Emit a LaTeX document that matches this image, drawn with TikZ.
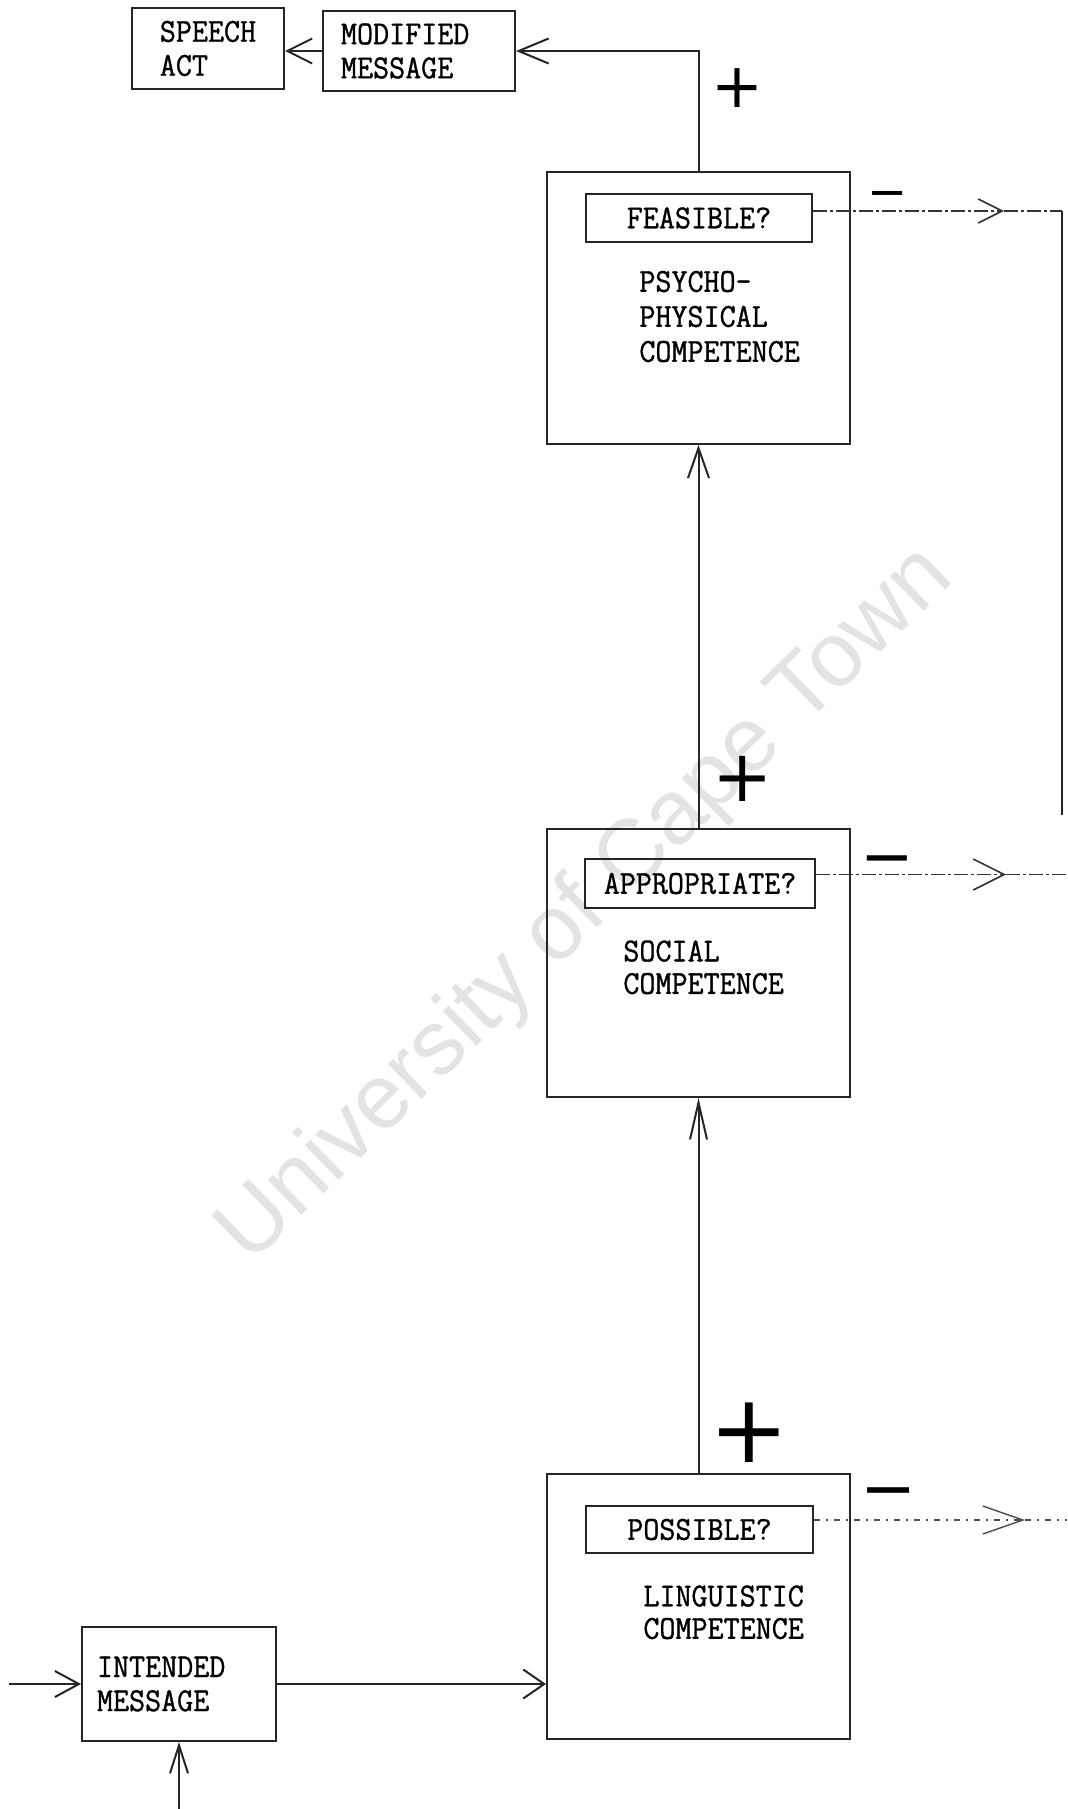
\documentclass[tikz,border=0pt]{standalone}
\usepackage{fontspec}
\usetikzlibrary{arrows.meta}
\newfontfamily\tw[FakeStretch=0.93,FakeBold=1]{Latin Modern Mono}
\newfontfamily\dv{DejaVu Sans}
\newfontfamily\wmfont{Liberation Sans}
\begin{document}
\begin{tikzpicture}[x=0.5pt,y=-0.5pt,
  box/.style={draw=black!85, line width=1pt, rectangle, inner sep=0pt,
    font=\tw\fontsize{16.75}{17}\selectfont},
  txt/.style={anchor=north west, align=left, inner sep=0pt,
    font=\tw\fontsize{16.75}{16.25}\selectfont},
  conn/.style={draw=black!85, line width=1pt},
  mline/.style={draw=black!80, line width=0.8pt, dash pattern=on 7pt off 1.5pt on 1.5pt off 1.5pt},
  pline/.style={draw=black!70, line width=0.7pt, dash pattern=on 3pt off 3pt on 1pt off 3pt},
  sign/.style={inner sep=0pt, text=black}
]
\useasboundingbox (0,0) rectangle (1067,1809);
\fill[white] (0,0) rectangle (1067,1809);

% watermark
\node[rotate=44.2, anchor=base, text=black!11, inner sep=0pt,
  font=\wmfont\fontsize{45.6}{50}\selectfont] (wm) at (603,923) {University of Cape Town};

% top boxes
\node[box, minimum width=76pt, minimum height=40.5pt, align=left] (speech) at (208,48.5) {SPEECH\\ACT};
\node[box, minimum width=96pt, minimum height=40pt, text width=78pt, inner xsep=9pt, align=left] (mod) at (419,51) {MODIFIED\\MESSAGE};

% psycho-physical
\node[box, minimum width=151.5pt, minimum height=136pt] (feas) at (698.5,308) {};
\node[box, minimum width=113pt, minimum height=24pt] (fq) at (699,218) {FEASIBLE?};
\node[txt, font=\tw\fontsize{16.75}{17.5}\selectfont] (ftxt) at (639,270.5) {PSYCHO-\\PHYSICAL\\COMPETENCE};

% social
\node[box, minimum width=151.5pt, minimum height=134pt] (soc) at (698.5,963) {};
\node[box, minimum width=115pt, minimum height=24.5pt] (aq) at (700,883.5) {APPROPRIATE?};
\node[txt] (stxt) at (623,940) {SOCIAL\\COMPETENCE};

% linguistic
\node[box, minimum width=151.5pt, minimum height=132.5pt] (ling) at (698.5,1606.5) {};
\node[box, minimum width=113.5pt, minimum height=23.5pt] (pq) at (699.5,1529.5) {POSSIBLE?};
\node[txt] (ltxt) at (643,1585) {LINGUISTIC\\COMPETENCE};

% intended
\node[box, minimum width=97pt, minimum height=57pt, text width=82pt, inner xsep=7.5pt, align=left] (int) at (179,1684) {INTENDED\\MESSAGE};

% signs
\node[sign, font=\dv\fontsize{31}{31}\selectfont] (p1) at (737,88) {+};
\node[sign, font=\dv\fontsize{36}{36}\selectfont] (p2) at (743,779) {+};
\node[sign, font=\dv\fontsize{47.5}{47.5}\selectfont] (p3) at (749,1433) {+};
\node[sign, font=\dv\fontsize{24}{24}\selectfont] (m1) at (887.5,193) {\vphantom{+}−};
\node[sign, font=\dv\fontsize{32}{32}\selectfont] (m2) at (887.5,858) {\vphantom{+}−};
\node[sign, font=\dv\fontsize{33.5}{33.5}\selectfont] (m3) at (888.5,1490) {\vphantom{+}−};

% main connectors
\draw[conn, -{Straight Barb[length=12.5pt,width=12.5pt]}] (mod.west) -- (mod.west -| speech.east);
\draw[conn, -{Straight Barb[length=15pt,width=12.5pt]}] (feas.north) |- (mod.east);
\draw[conn, -{Straight Barb[length=15pt,width=10.5pt]}] (soc.north) -- (feas.south);
\draw[conn, -{Straight Barb[length=18.5pt,width=8.5pt]}] (ling.north) -- (soc.south);
\draw[conn, -{Straight Barb[length=10.5pt,width=14.5pt]}] (int.east) -- (int.east -| ling.west);
\coordinate (inL) at (9,1684);
\coordinate (inB) at (179,1809);
\draw[conn, -{Straight Barb[length=12pt,width=13pt]}] (inL) -- (int.west);
\draw[conn, -{Straight Barb[length=14pt,width=9pt]}] (inB) -- (int.south);

% minus outputs
\coordinate (ftip) at (1004,211);
\coordinate (fcorner) at (1062,211);
\coordinate (fend) at (1062,815);
\draw[mline, -{Straight Barb[length=12pt,width=12pt]}] ([yshift=3.5pt]fq.east) -- (ftip);
\draw[mline] (ftip) -- (fcorner);
\draw[conn] (fcorner) -- (fend);

\coordinate (atip) at (1006,874.5);
\coordinate (aend) at (1067,874.5);
\draw[mline, -{Straight Barb[length=15.5pt,width=15.5pt]}] ([yshift=4.5pt]aq.east) -- (atip);
\draw[mline] (atip) -- (aend);

\coordinate (ptip) at (1025,1520);
\coordinate (pend) at (1067,1520);
\draw[pline, -{Straight Barb[length=20pt,width=14pt]}] ([yshift=4.75pt]pq.east) -- (ptip);
\draw[pline] (ptip) -- (pend);
\end{tikzpicture}
\end{document}
